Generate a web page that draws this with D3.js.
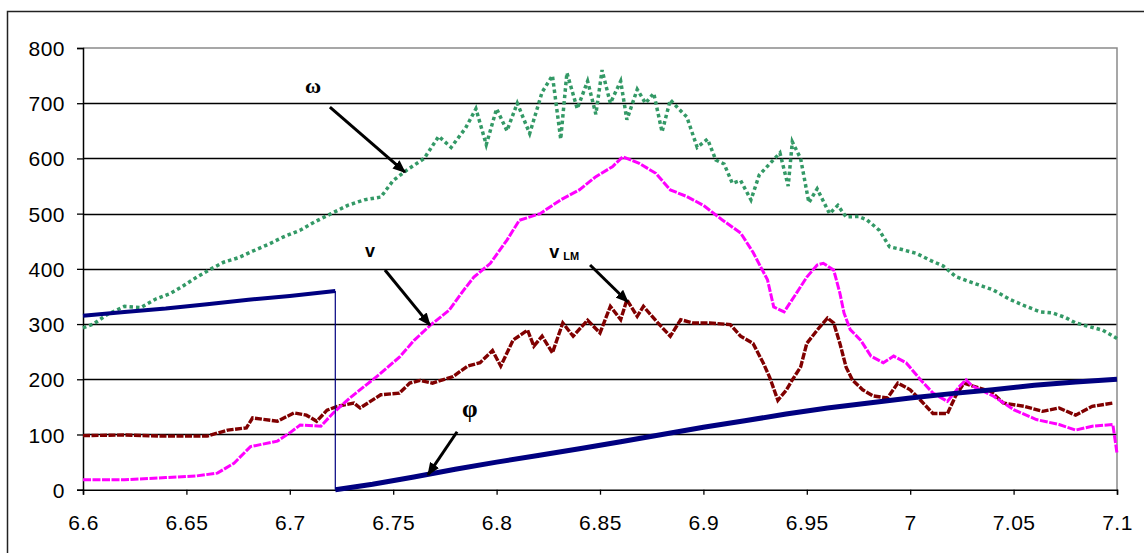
<!DOCTYPE html>
<html>
<head>
<meta charset="utf-8">
<script src="https://cdn.jsdelivr.net/npm/d3@7"></script>
<style>
  body { margin: 0; background: #fff; }
  svg { display: block; }
  .tick text { font-family: "Liberation Sans", Arial, sans-serif; font-size: 21px; fill: #000; letter-spacing: 0.5px; }
</style>
</head>
<body>
<svg id="chart" width="1144" height="553"></svg>
<script>
// tick labels
const xTicks = [6.6, 6.65, 6.7, 6.75, 6.8, 6.85, 6.9, 6.95, 7, 7.05, 7.1];
const yTicks = [0, 100, 200, 300, 400, 500, 600, 700, 800];

// omega (green)
const omega = [
  [6.600, 293], [6.605, 300], [6.612, 318], [6.620, 332], [6.628, 330], [6.635, 345],
  [6.642, 355], [6.648, 368], [6.655, 385], [6.662, 400], [6.668, 412], [6.675, 420],
  [6.682, 432], [6.690, 445], [6.697, 458], [6.705, 470], [6.712, 485], [6.720, 500],
  [6.728, 515], [6.736, 525], [6.744, 530], [6.750, 560], [6.757, 580], [6.765, 600],
  [6.772, 640], [6.778, 620], [6.785, 655], [6.790, 690], [6.795, 625], [6.800, 690],
  [6.805, 650], [6.810, 700], [6.816, 645], [6.822, 720], [6.827, 750], [6.831, 635],
  [6.834, 755], [6.839, 690], [6.844, 740], [6.848, 680], [6.851, 760], [6.855, 700],
  [6.860, 740], [6.863, 670], [6.868, 725], [6.872, 700], [6.876, 718], [6.880, 648],
  [6.884, 706], [6.888, 690], [6.892, 675], [6.897, 620], [6.902, 635], [6.906, 597],
  [6.910, 590], [6.914, 555], [6.918, 560], [6.923, 525], [6.927, 570], [6.932, 590],
  [6.937, 610], [6.941, 550], [6.943, 630], [6.947, 600], [6.951, 520], [6.955, 545],
  [6.961, 500], [6.965, 515], [6.969, 494], [6.975, 495], [6.979, 489], [6.985, 470],
  [6.990, 440], [6.996, 435], [7.003, 428], [7.010, 415], [7.016, 405], [7.022, 386],
  [7.030, 375], [7.040, 362], [7.048, 345], [7.056, 332], [7.063, 322], [7.069, 320],
  [7.075, 312], [7.080, 302], [7.087, 295], [7.093, 289], [7.100, 274]
];

// v (magenta)
const vel = [
  [6.600, 18], [6.620, 18], [6.640, 22], [6.655, 25], [6.665, 30], [6.673, 48],
  [6.681, 78], [6.694, 88], [6.700, 103], [6.705, 117], [6.715, 115], [6.721, 139],
  [6.729, 166], [6.737, 190], [6.744, 211], [6.753, 240], [6.760, 270], [6.768, 298],
  [6.777, 325], [6.784, 361], [6.789, 385], [6.797, 410], [6.805, 452], [6.811, 488],
  [6.821, 500], [6.831, 525], [6.840, 543], [6.848, 567], [6.856, 585], [6.861, 603],
  [6.869, 591], [6.877, 573], [6.884, 543], [6.892, 531], [6.900, 515], [6.909, 489],
  [6.918, 465], [6.924, 430], [6.931, 380], [6.934, 331], [6.939, 322], [6.945, 356],
  [6.950, 385], [6.955, 407], [6.958, 410], [6.963, 398], [6.966, 356], [6.968, 320],
  [6.971, 290], [6.976, 271], [6.981, 242], [6.987, 230], [6.992, 242], [6.998, 230],
  [7.005, 199], [7.011, 175], [7.018, 160], [7.024, 188], [7.027, 199], [7.030, 188],
  [7.040, 170], [7.050, 145], [7.061, 127], [7.072, 118], [7.080, 108], [7.088, 115],
  [7.098, 118], [7.100, 66]
];

// v_LM (dark red)
const vlm = [
  [6.600, 98], [6.620, 99], [6.640, 97], [6.660, 97], [6.670, 108], [6.679, 112],
  [6.682, 130], [6.694, 124], [6.702, 139], [6.708, 135], [6.713, 124], [6.718, 144],
  [6.723, 151], [6.731, 157], [6.734, 148], [6.744, 172], [6.753, 175], [6.758, 193],
  [6.763, 198], [6.769, 193], [6.779, 205], [6.786, 224], [6.792, 230], [6.798, 252],
  [6.802, 224], [6.808, 271], [6.815, 289], [6.818, 260], [6.822, 278], [6.827, 248],
  [6.832, 302], [6.837, 278], [6.844, 307], [6.850, 284], [6.855, 332], [6.860, 308],
  [6.863, 344], [6.868, 314], [6.871, 332], [6.878, 302], [6.884, 278], [6.889, 308],
  [6.895, 302], [6.903, 302], [6.913, 299], [6.918, 278], [6.924, 265], [6.929, 229],
  [6.932, 204], [6.936, 162], [6.940, 180], [6.943, 199], [6.947, 222], [6.950, 265],
  [6.955, 289], [6.960, 311], [6.963, 302], [6.966, 265], [6.969, 222], [6.972, 199],
  [6.977, 181], [6.982, 170], [6.989, 166], [6.994, 193], [7.000, 181], [7.005, 162],
  [7.011, 138], [7.018, 138], [7.022, 170], [7.026, 193], [7.030, 188], [7.039, 178],
  [7.045, 157], [7.055, 151], [7.064, 142], [7.072, 148], [7.080, 135], [7.088, 151],
  [7.098, 157]
];

// phi (navy), before and after the reset
const phiBefore = [
  [6.600, 315], [6.620, 322], [6.640, 328], [6.660, 336], [6.680, 344], [6.700, 351], [6.722, 360]
];
const phiAfter = [
  [6.722, 0], [6.740, 10], [6.760, 23], [6.780, 37], [6.800, 50], [6.820, 62],
  [6.840, 74], [6.860, 87], [6.880, 100], [6.900, 113], [6.920, 125], [6.940, 137],
  [6.960, 148], [6.980, 157], [7.000, 166], [7.020, 174], [7.040, 181], [7.060, 189],
  [7.080, 195], [7.100, 200]
];

// annotations: label, text position, arrow start, arrow end (data units)
const notes = [
  { text: "ω", at: [6.7112, 718], from: [6.7194, 693], to: [6.7557, 575], font: "serif" },
  { text: "v", at: [6.7388, 421], from: [6.746, 398], to: [6.7678, 298], font: "sans" },
  { text: "v", sub: "LM", at: [6.8255, 419], from: [6.8452, 407], to: [6.8635, 340], font: "sans" },
  { text: "φ", at: [6.7871, 132], from: [6.7809, 105], to: [6.7668, 27], font: "serif" }
];

const svg = d3.select("#chart");
const plotLeft = 83, plotRight = 1117, plotTop = 48, plotBottom = 489.7;

// outer chart frame
svg.append("rect")
  .attr("x", 7.5).attr("y", 11.5)
  .attr("width", 1160).attr("height", 560)
  .attr("fill", "#fff").attr("stroke", "#222").attr("stroke-width", 1.5);

const x = d3.scaleLinear().domain([6.6, 7.1]).range([plotLeft, plotRight]);
const y = d3.scaleLinear().domain([0, 800]).range([plotBottom, plotTop]);

// gridlines
svg.append("g")
  .selectAll("line")
  .data(yTicks.filter(d => d > 0 && d < 800))
  .join("line")
  .attr("x1", plotLeft).attr("x2", plotRight)
  .attr("y1", d => Math.round(y(d)) + 0.5).attr("y2", d => Math.round(y(d)) + 0.5)
  .attr("stroke", "#000").attr("stroke-width", 1.3);

// plot area border top/right (gray)
svg.append("path")
  .attr("d", `M${plotLeft},${y(800)}H${plotRight}V${plotBottom}`)
  .attr("fill", "none").attr("stroke", "#8a8a8a").attr("stroke-width", 1.5);

// axes
const yAxis = svg.append("g")
  .attr("transform", `translate(${plotLeft},0)`)
  .call(d3.axisLeft(y).tickValues(yTicks).tickSize(6).tickPadding(12).tickFormat(d3.format("d")));
const xAxis = svg.append("g")
  .attr("transform", `translate(0,${plotBottom})`)
  .call(d3.axisBottom(x).tickValues(xTicks).tickSize(5).tickPadding(20).tickFormat(d => String(d)));
[yAxis, xAxis].forEach(g => {
  g.selectAll(".domain").attr("stroke", "#000").attr("stroke-width", 1.5);
  g.selectAll(".tick line").attr("stroke", "#000").attr("stroke-width", 1.3);
});
yAxis.selectAll(".tick text").attr("dy", "0.36em");

const line = d3.line().x(d => x(d[0])).y(d => y(d[1]));
const plot = svg.append("g");

// omega: scattered green
plot.append("path")
  .datum(omega)
  .attr("d", line)
  .attr("fill", "none")
  .attr("stroke", "#339966")
  .attr("stroke-width", 3.5)
  .attr("stroke-dasharray", "3.5,3");

// v_LM
plot.append("path")
  .datum(vlm)
  .attr("d", line)
  .attr("fill", "none")
  .attr("stroke", "#800000")
  .attr("stroke-width", 3.4)
  .attr("stroke-dasharray", "7,1.5");

// v
plot.append("path")
  .datum(vel)
  .attr("d", line)
  .attr("fill", "none")
  .attr("stroke", "#ff00ff")
  .attr("stroke-width", 3)
  .attr("stroke-dasharray", "8,1.5");

// phi: thin connector + thick segments
plot.append("path")
  .datum([phiBefore[phiBefore.length - 1], phiAfter[0]])
  .attr("d", line)
  .attr("fill", "none")
  .attr("stroke", "#000080")
  .attr("stroke-width", 1.2);
[phiBefore, phiAfter].forEach((seg, i) => {
  plot.append("path")
    .datum(seg)
    .attr("d", line)
    .attr("fill", "none")
    .attr("stroke", "#000080")
    .attr("stroke-width", i === 0 ? 4 : 5);
});

// annotations
const defs = svg.append("defs");
defs.append("marker")
  .attr("id", "arrow")
  .attr("viewBox", "0 0 12 10")
  .attr("refX", 11).attr("refY", 5)
  .attr("markerWidth", 13).attr("markerHeight", 11)
  .attr("markerUnits", "userSpaceOnUse")
  .attr("orient", "auto")
  .append("path")
  .attr("d", "M0,0L12,5L0,10Z")
  .attr("fill", "#000");

const ann = svg.append("g");
notes.forEach(n => {
  ann.append("line")
    .attr("x1", x(n.from[0])).attr("y1", y(n.from[1]))
    .attr("x2", x(n.to[0])).attr("y2", y(n.to[1]))
    .attr("stroke", "#000").attr("stroke-width", 3)
    .attr("marker-end", "url(#arrow)");
  const t = ann.append("text")
    .attr("x", x(n.at[0])).attr("y", y(n.at[1]))
    .attr("text-anchor", n.sub ? "start" : "middle")
    .attr("font-family", n.font === "serif" ? "'Liberation Serif', 'Times New Roman', serif" : "'Liberation Sans', Arial, sans-serif")
    .attr("font-weight", "bold")
    .attr("font-size", n.text === "φ" ? 25 : (n.font === "serif" ? 22 : 18))
    .text(n.text);
  if (n.sub) {
    t.append("tspan")
      .attr("dx", 4).attr("dy", 2)
      .attr("font-size", 11)
      .text(n.sub);
  }
});
</script>
</body>
</html>
